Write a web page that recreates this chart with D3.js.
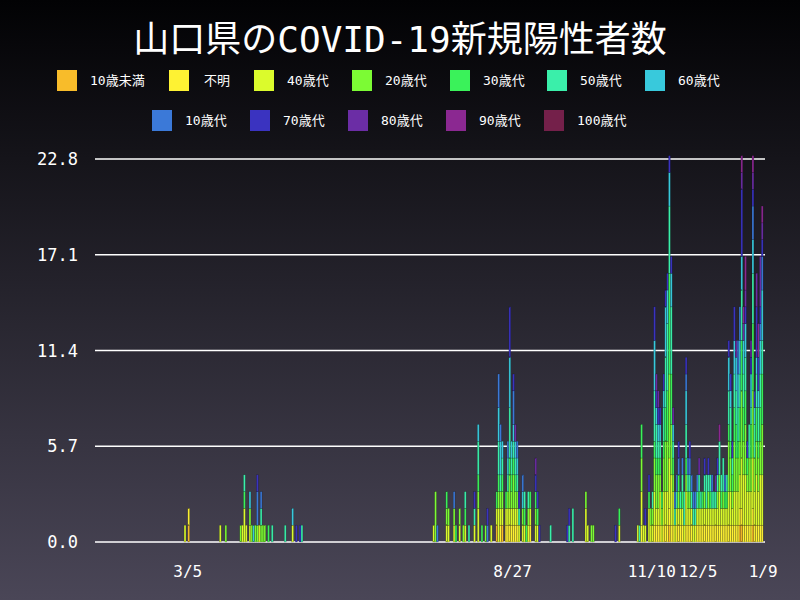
<!DOCTYPE html>
<html>
<head>
<meta charset="utf-8">
<script src="https://cdn.jsdelivr.net/npm/d3@7"></script>
<style>
body { margin: 0; }
svg { display: block; }
</style>
</head>
<body>
<script>
// Age groups (stack order, bottom to top) and their codes used in dailyCases
var groupCodes = ["a", "u", "4", "2", "3", "5", "6", "1", "7", "8", "9", "c"];
var groupNames = ["10歳未満", "不明", "40歳代", "20歳代", "30歳代", "50歳代", "60歳代",
    "10歳代", "70歳代", "80歳代", "90歳代", "100歳代"];
var groupColors = ["#f8bc2a", "#fef233", "#dbfb2c", "#7cfb34", "#3af25a", "#3aefaa", "#38c9dc",
    "#3b79d8", "#3a33c0", "#6b2da5", "#8b2891", "#74204a"];

// One entry per day: date, and one code per new case
var dailyCases = [
    ["2020-03-03", "4"], ["2020-03-05", "au"], ["2020-03-22", "4"], ["2020-03-25", "2"],
    ["2020-04-02", "2"], ["2020-04-03", "4"], ["2020-04-04", "4435"], ["2020-04-05", "4"],
    ["2020-04-07", "426"], ["2020-04-08", "2"], ["2020-04-09", "6"], ["2020-04-10", "2"],
    ["2020-04-11", "2117"], ["2020-04-12", "4"], ["2020-04-13", "251"], ["2020-04-14", "2"],
    ["2020-04-15", "2"], ["2020-04-17", "3"], ["2020-04-19", "5"], ["2020-04-26", "5"],
    ["2020-04-30", "46"], ["2020-05-02", "7"], ["2020-05-04", "7"], ["2020-05-05", "5"],
    ["2020-07-15", "4"], ["2020-07-16", "222"], ["2020-07-17", "1"], ["2020-07-22", "423"],
    ["2020-07-23", "42"], ["2020-07-26", "421"], ["2020-07-27", "3"], ["2020-07-29", "42"],
    ["2020-07-31", "2"], ["2020-08-01", "453"], ["2020-08-03", "5"], ["2020-08-06", "457"],
    ["2020-08-08", "4425635"], ["2020-08-10", "3"], ["2020-08-12", "2"], ["2020-08-13", "17"],
    ["2020-08-15", "4"], ["2020-08-18", "a43"], ["2020-08-19", "4423565611"],
    ["2020-08-20", "u425661"], ["2020-08-21", "a42356"], ["2020-08-23", "4u3"],
    ["2020-08-24", "u42561"], ["2020-08-25", "4u223555666777"], ["2020-08-26", "4u2356"],
    ["2020-08-27", "4u22356117"], ["2020-08-28", "u423568"], ["2020-08-29", "4u2561"],
    ["2020-08-30", "457"], ["2020-09-01", "4261"], ["2020-09-02", "453"], ["2020-09-03", "3"],
    ["2020-09-04", "452"], ["2020-09-05", "4u3"], ["2020-09-08", "42378"], ["2020-09-09", "437"],
    ["2020-09-10", "7"], ["2020-09-16", "5"], ["2020-09-25", "7"], ["2020-09-26", "75"],
    ["2020-09-28", "55"], ["2020-10-05", "442"], ["2020-10-06", "4"], ["2020-10-08", "2"],
    ["2020-10-09", "2"], ["2020-10-21", "7"], ["2020-10-23", "43"],
    ["2020-11-02", "4"], ["2020-11-03", "5"], ["2020-11-04", "4u42233"], ["2020-11-05", "4"],
    ["2020-11-06", "47"], ["2020-11-08", "4437"], ["2020-11-09", "42"], ["2020-11-10", "425"],
    ["2020-11-11", "4u422355566677"], ["2020-11-12", "4u22355678"], ["2020-11-13", "u42235678"],
    ["2020-11-14", "4u423567"], ["2020-11-15", "423"], ["2020-11-16", "4u42235567"],
    ["2020-11-17", "4u4222335556667"], ["2020-11-18", "4u42223335555667"],
    ["2020-11-19", "a4u44222223333335555667"], ["2020-11-20", "4u442223335555667"],
    ["2020-11-21", "4u423568"], ["2020-11-22", "451"], ["2020-11-23", "4u51"],
    ["2020-11-24", "4u2317"], ["2020-11-25", "u45"], ["2020-11-26", "4u351"],
    ["2020-11-27", "455"], ["2020-11-28", "4u423556617"], ["2020-11-29", "4u251"],
    ["2020-11-30", "4u2517"], ["2020-12-01", "4u51"], ["2020-12-02", "451"],
    ["2020-12-03", "451"], ["2020-12-04", "4u51"], ["2020-12-05", "4u358"],
    ["2020-12-06", "4u5"], ["2020-12-07", "4u3"], ["2020-12-08", "4u257"], ["2020-12-09", "4u55"],
    ["2020-12-10", "4u257"], ["2020-12-11", "4u35"], ["2020-12-12", "4u51"], ["2020-12-13", "u45"],
    ["2020-12-14", "4u58"], ["2020-12-15", "4u257"], ["2020-12-16", "4u42559"],
    ["2020-12-17", "4u35"], ["2020-12-18", "4u255"], ["2020-12-19", "4u31"], ["2020-12-20", "4u53"],
    ["2020-12-21", "4u4222355667"], ["2020-12-22", "4u42235567"], ["2020-12-23", "4u2357"],
    ["2020-12-24", "4u422233556677"], ["2020-12-25", "4u4223355668"],
    ["2020-12-26", "4u4223556611"], ["2020-12-27", "a4u42233556611"],
    ["2020-12-28", "a4u44222233355566777789"], ["2020-12-29", "4u442233556689"],
    ["2020-12-30", "4u442223355667899"], ["2020-12-31", "4u4237"], ["2021-01-01", "4u42255"],
    ["2021-01-02", "4u4223356678"], ["2021-01-03", "a4u44222233335556611789"],
    ["2021-01-04", "4u4225567"], ["2021-01-05", "4u44223355677788"],
    ["2021-01-06", "4u42235567799"], ["2021-01-07", "4u442233556617888"],
    ["2021-01-08", "4u442223335566611789"]
];

var yTicks = [0, 5.7, 11.4, 17.1, 22.8];
var xTickDates = ["2020-03-05", "2020-08-27", "2020-11-10", "2020-12-05", "2021-01-09"];
var xTickLabels = ["3/5", "8/27", "11/10", "12/5", "1/9"];
var dateRange = ["2020-01-15", "2021-01-10"];

var W = 800, H = 600;
var margin = { top: 159, right: 35, bottom: 58, left: 95 };
var parse = d3.timeParse("%Y-%m-%d");
var fontStack = "'DejaVu Sans Mono', 'Noto Sans CJK JP', monospace";

var svg = d3.select("body").append("svg").attr("width", W).attr("height", H);

// Background gradient
var grad = svg.append("defs").append("linearGradient")
    .attr("id", "bg").attr("x1", 0).attr("y1", 0).attr("x2", 0).attr("y2", 1);
grad.append("stop").attr("offset", "0%").attr("stop-color", "#020204");
grad.append("stop").attr("offset", "100%").attr("stop-color", "#4a4657");
svg.append("rect").attr("width", W).attr("height", H).attr("fill", "url(#bg)");

// Title
svg.append("text")
    .attr("x", W / 2).attr("y", 52)
    .attr("text-anchor", "middle")
    .attr("fill", "#fff")
    .attr("font-size", "36px")
    .attr("font-family", fontStack)
    .text("山口県のCOVID-19新規陽性者数");

// Legend
var legendX = [57, 169, 254, 352, 450, 547, 645, 152, 250, 348, 446, 544];
groupNames.forEach(function (name, i) {
    var row = i < 7 ? 0 : 1;
    var cy = row === 0 ? 80 : 120;
    svg.append("rect")
        .attr("x", legendX[i]).attr("y", cy - 10)
        .attr("width", 20).attr("height", 21)
        .attr("fill", groupColors[i]);
    svg.append("text")
        .attr("x", legendX[i] + (i === 1 ? 35 : 33)).attr("y", cy + 5)
        .attr("fill", "#fff")
        .attr("font-size", "13px")
        .attr("font-family", fontStack)
        .text(name);
});

var x = d3.scaleTime()
    .domain(dateRange.map(parse))
    .range([margin.left, W - margin.right]);
var y = d3.scaleLinear()
    .domain([0, 22.8])
    .range([H - margin.bottom, margin.top]);

// Gridlines and y labels
svg.append("g").selectAll("line").data(yTicks).join("line")
    .attr("x1", margin.left).attr("x2", W - margin.right)
    .attr("y1", function (d) { return y(d); })
    .attr("y2", function (d) { return y(d); })
    .attr("stroke", "#fff").attr("stroke-width", 1.5);

svg.append("g").selectAll("text").data(yTicks).join("text")
    .attr("x", 78).attr("y", function (d) { return y(d) + 6; })
    .attr("text-anchor", "end")
    .attr("fill", "#fff")
    .attr("font-size", "17px")
    .attr("font-family", fontStack)
    .text(function (d) { return d.toFixed(1); });

// Stacked bars: one segment per age group per day
var bars = svg.append("g");
dailyCases.forEach(function (row) {
    var day = parse(row[0]);
    var x0 = x(day), x1 = x(d3.timeDay.offset(day, 1));
    var base = 0;
    groupCodes.forEach(function (code, gi) {
        var n = row[1].split(code).length - 1;
        if (!n) return;
        bars.append("rect")
            .attr("x", x0).attr("width", x1 - x0)
            .attr("y", y(base + n))
            .attr("height", y(base) - y(base + n))
            .attr("fill", groupColors[gi])
            .attr("stroke", "rgba(0,0,0,0.35)")
            .attr("stroke-width", 0.5);
        base += n;
    });
});

// x labels
svg.append("g").selectAll("text").data(xTickDates).join("text")
    .attr("x", function (d) { return x(parse(d)); })
    .attr("y", 577)
    .attr("text-anchor", "middle")
    .attr("fill", "#fff")
    .attr("font-size", "16px")
    .attr("font-family", fontStack)
    .text(function (d, i) { return xTickLabels[i]; });
</script>
</body>
</html>
